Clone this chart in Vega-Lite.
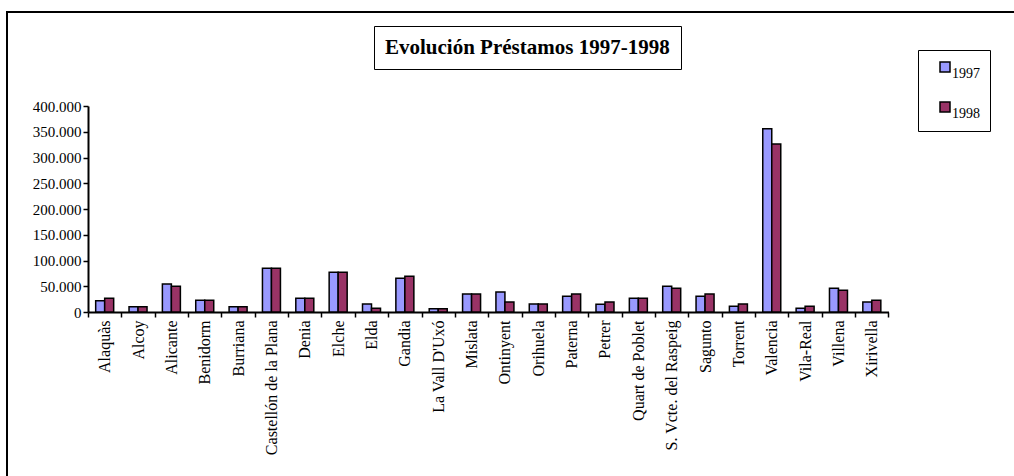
{
  "$schema": "https://vega.github.io/schema/vega-lite/v6.json",
  "width": 1017,
  "height": 474,
  "autosize": {"type": "none"},
  "padding": {"left": 7, "top": 12, "right": -10, "bottom": -10},
  "background": "white",
  "config": {
    "view": {"stroke": "black", "strokeWidth": 2},
    "font": "Liberation Serif",
    "axis": {
      "domainColor": "black",
      "domainWidth": 2,
      "tickColor": "black",
      "tickWidth": 1.5,
      "tickSize": 5,
      "labelColor": "black",
      "labelFont": "Liberation Serif",
      "grid": false,
      "title": null
    },
    "legend": {
      "labelFont": "Liberation Serif",
      "labelColor": "black"
    }
  },
  "data": {
    "values": [
      {"ciudad": "Alaquàs", "anio": "1997", "prestamos": 22000},
      {"ciudad": "Alaquàs", "anio": "1998", "prestamos": 26500},
      {"ciudad": "Alcoy", "anio": "1997", "prestamos": 10400},
      {"ciudad": "Alcoy", "anio": "1998", "prestamos": 10400},
      {"ciudad": "Alicante", "anio": "1997", "prestamos": 54400},
      {"ciudad": "Alicante", "anio": "1998", "prestamos": 49800},
      {"ciudad": "Benidorm", "anio": "1997", "prestamos": 22600},
      {"ciudad": "Benidorm", "anio": "1998", "prestamos": 22600},
      {"ciudad": "Burriana", "anio": "1997", "prestamos": 10400},
      {"ciudad": "Burriana", "anio": "1998", "prestamos": 10400},
      {"ciudad": "Castellón de la Plana", "anio": "1997", "prestamos": 84800},
      {"ciudad": "Castellón de la Plana", "anio": "1998", "prestamos": 84800},
      {"ciudad": "Denia", "anio": "1997", "prestamos": 26500},
      {"ciudad": "Denia", "anio": "1998", "prestamos": 26500},
      {"ciudad": "Elche", "anio": "1997", "prestamos": 77000},
      {"ciudad": "Elche", "anio": "1998", "prestamos": 77000},
      {"ciudad": "Elda", "anio": "1997", "prestamos": 15500},
      {"ciudad": "Elda", "anio": "1998", "prestamos": 7100},
      {"ciudad": "Gandia", "anio": "1997", "prestamos": 65400},
      {"ciudad": "Gandia", "anio": "1998", "prestamos": 69200},
      {"ciudad": "La Vall D'Uxó", "anio": "1997", "prestamos": 6500},
      {"ciudad": "La Vall D'Uxó", "anio": "1998", "prestamos": 6500},
      {"ciudad": "Mislata", "anio": "1997", "prestamos": 34900},
      {"ciudad": "Mislata", "anio": "1998", "prestamos": 34900},
      {"ciudad": "Ontinyent", "anio": "1997", "prestamos": 38800},
      {"ciudad": "Ontinyent", "anio": "1998", "prestamos": 19400},
      {"ciudad": "Orihuela", "anio": "1997", "prestamos": 15500},
      {"ciudad": "Orihuela", "anio": "1998", "prestamos": 15500},
      {"ciudad": "Paterna", "anio": "1997", "prestamos": 30400},
      {"ciudad": "Paterna", "anio": "1998", "prestamos": 34900},
      {"ciudad": "Petrer", "anio": "1997", "prestamos": 14900},
      {"ciudad": "Petrer", "anio": "1998", "prestamos": 19400},
      {"ciudad": "Quart de Poblet", "anio": "1997", "prestamos": 26500},
      {"ciudad": "Quart de Poblet", "anio": "1998", "prestamos": 26500},
      {"ciudad": "S. Vcte. del Raspeig", "anio": "1997", "prestamos": 49800},
      {"ciudad": "S. Vcte. del Raspeig", "anio": "1998", "prestamos": 45900},
      {"ciudad": "Sagunto", "anio": "1997", "prestamos": 30400},
      {"ciudad": "Sagunto", "anio": "1998", "prestamos": 34900},
      {"ciudad": "Torrent", "anio": "1997", "prestamos": 11000},
      {"ciudad": "Torrent", "anio": "1998", "prestamos": 15500},
      {"ciudad": "Valencia", "anio": "1997", "prestamos": 356000},
      {"ciudad": "Valencia", "anio": "1998", "prestamos": 326000},
      {"ciudad": "Vila-Real", "anio": "1997", "prestamos": 7100},
      {"ciudad": "Vila-Real", "anio": "1998", "prestamos": 11000},
      {"ciudad": "Villena", "anio": "1997", "prestamos": 45900},
      {"ciudad": "Villena", "anio": "1998", "prestamos": 42100},
      {"ciudad": "Xirivella", "anio": "1997", "prestamos": 19400},
      {"ciudad": "Xirivella", "anio": "1998", "prestamos": 22600}
    ]
  },
  "layer": [
    {
      "mark": {"type": "bar", "stroke": "black", "strokeWidth": 1.5},
      "encoding": {
        "x": {
          "field": "ciudad",
          "type": "nominal",
          "sort": null,
          "scale": {"range": [81, 881.5], "paddingInner": 0, "paddingOuter": 0},
          "axis": {
            "orient": "bottom",
            "offset": -174,
            "labelAngle": -90,
            "labelFont": "Liberation Serif",
            "labelFontSize": 16,
            "labelPadding": 3,
            "tickBand": "extent",
            "labelOverlap": false
          }
        },
        "xOffset": {
          "field": "anio",
          "type": "nominal",
          "scale": {"paddingInner": 0, "paddingOuter": 0.853}
        },
        "y": {
          "field": "prestamos",
          "type": "quantitative",
          "scale": {"domain": [0, 400000], "range": [300, 94], "nice": false, "zero": true},
          "axis": {
            "orient": "left",
            "offset": -81,
            "values": [0, 50000, 100000, 150000, 200000, 250000, 300000, 350000, 400000],
            "labelExpr": "replace(format(datum.value, ','), ',', '.')",
            "labelFont": "Liberation Serif",
            "labelFontSize": 15,
            "labelPadding": 2
          }
        },
        "color": {
          "field": "anio",
          "type": "nominal",
          "scale": {"domain": ["1997", "1998"], "range": ["#9999FF", "#993366"]},
          "legend": {
            "title": null,
            "orient": "none",
            "legendX": 911,
            "legendY": 38,
            "strokeColor": "black",
            "padding": 10,
            "symbolType": "square",
            "symbolSize": 100,
            "symbolOffset": 10,
            "symbolStrokeColor": "black",
            "symbolStrokeWidth": 1.5,
            "symbolOpacity": 1,
            "labelFont": "Liberation Serif",
            "labelFontSize": 14,
            "labelBaseline": "top",
            "labelOffset": 0,
            "rowPadding": 18
          }
        }
      }
    },
    {
      "data": {"values": [{"titulo": "Evolución Préstamos 1997-1998"}]},
      "mark": {"type": "point", "opacity": 0},
      "encoding": {
        "shape": {
          "field": "titulo",
          "type": "nominal",
          "legend": {
            "title": null,
            "orient": "none",
            "legendX": 367,
            "legendY": 14,
            "strokeColor": "black",
            "padding": 11,
            "symbolSize": 0,
            "symbolOpacity": 0,
            "symbolStrokeWidth": 0,
            "labelOffset": -21,
            "labelLimit": 600,
            "labelFont": "Liberation Serif",
            "labelFontSize": 21,
            "labelFontWeight": "bold"
          }
        }
      }
    }
  ]
}
